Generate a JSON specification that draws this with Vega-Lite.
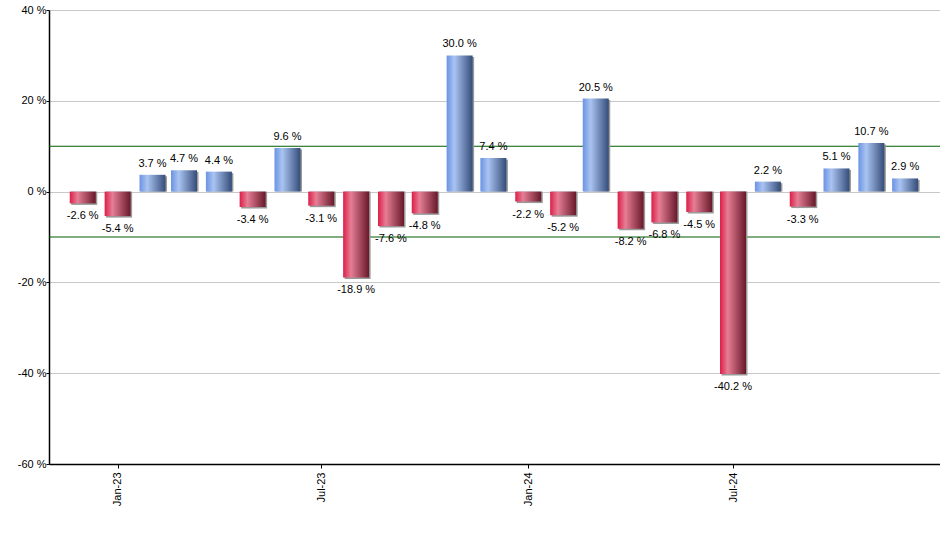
{
  "$schema": "https://vega.github.io/schema/vega-lite/v6.json",
  "width": 891,
  "height": 454,
  "autosize": {"type": "none"},
  "padding": {"left": 49, "top": 10, "right": 0, "bottom": 86},
  "background": "white",
  "config": {
    "view": {"stroke": null},
    "font": "Liberation Sans",
    "axis": {"labelFont": "Liberation Sans", "labelFontSize": 11, "labelColor": "#000000", "domainColor": "#000000", "tickColor": "#000000"}
  },
  "datasets": {
    "monthly": [
      {"date": "2022-12-01", "value": -2.6},
      {"date": "2023-01-01", "value": -5.4},
      {"date": "2023-02-01", "value": 3.7},
      {"date": "2023-03-01", "value": 4.7},
      {"date": "2023-04-01", "value": 4.4},
      {"date": "2023-05-01", "value": -3.4},
      {"date": "2023-06-01", "value": 9.6},
      {"date": "2023-07-01", "value": -3.1},
      {"date": "2023-08-01", "value": -18.9},
      {"date": "2023-09-01", "value": -7.6},
      {"date": "2023-10-01", "value": -4.8},
      {"date": "2023-11-01", "value": 30.0},
      {"date": "2023-12-01", "value": 7.4},
      {"date": "2024-01-01", "value": -2.2},
      {"date": "2024-02-01", "value": -5.2},
      {"date": "2024-03-01", "value": 20.5},
      {"date": "2024-04-01", "value": -8.2},
      {"date": "2024-05-01", "value": -6.8},
      {"date": "2024-06-01", "value": -4.5},
      {"date": "2024-07-01", "value": -40.2},
      {"date": "2024-08-01", "value": 2.2},
      {"date": "2024-09-01", "value": -3.3},
      {"date": "2024-10-01", "value": 5.1},
      {"date": "2024-11-01", "value": 10.7},
      {"date": "2024-12-01", "value": 2.9}
    ],
    "bands": [{"level": 10}, {"level": -10}]
  },
  "data": {"name": "monthly"},
  "encoding": {
    "x": {
      "field": "date",
      "type": "temporal",
      "scale": {"type": "utc", "domain": ["2022-11-01", "2025-01-01"], "padding": 0, "nice": false},
      "axis": {
        "title": null,
        "grid": false,
        "values": ["2023-01-01", "2023-07-01", "2024-01-01", "2024-07-01"],
        "labelExpr": "utcFormat(datum.value, '%b-%y')",
        "labelAngle": -90,
        "tickSize": 4,
        "labelPadding": 4,
        "domainWidth": 1.5
      }
    },
    "y": {
      "field": "value",
      "type": "quantitative",
      "scale": {"domain": [-60, 40], "nice": false, "zero": false},
      "axis": {
        "title": null,
        "values": [-60, -40, -20, 0, 20, 40],
        "labelExpr": "datum.value + ' %'",
        "grid": true,
        "gridColor": "#c8c8c8",
        "gridWidth": 1,
        "tickSize": 3,
        "labelPadding": 0,
        "domainWidth": 1.5
      }
    }
  },
  "layer": [
    {
      "data": {"name": "bands"},
      "mark": {"type": "rule", "color": "#005c00", "strokeWidth": 1.1},
      "encoding": {"x": null, "y": {"field": "level", "type": "quantitative"}}
    },
    {
      "mark": {"type": "bar", "width": 26, "color": "#9a9a9a", "xOffset": 1.5, "yOffset": 1.5},
      "encoding": {"y2": {"datum": 0}}
    },
    {
      "transform": [{"filter": "datum.value >= 0"}],
      "mark": {
        "type": "bar",
        "width": 26,
        "fill": {
          "gradient": "linear", "x1": 0, "x2": 1, "y1": 0, "y2": 0,
          "stops": [
            {"offset": 0, "color": "#6a93e3"},
            {"offset": 0.3, "color": "#aac4f2"},
            {"offset": 1, "color": "#344c78"}
          ]
        }
      },
      "encoding": {"y2": {"datum": 0}}
    },
    {
      "transform": [{"filter": "datum.value < 0"}],
      "mark": {
        "type": "bar",
        "width": 26,
        "fill": {
          "gradient": "linear", "x1": 0, "x2": 1, "y1": 0, "y2": 0,
          "stops": [
            {"offset": 0, "color": "#dc1e48"},
            {"offset": 0.3, "color": "#e67e95"},
            {"offset": 1, "color": "#68182a"}
          ]
        }
      },
      "encoding": {"y2": {"datum": 0}}
    },
    {
      "transform": [{"filter": "datum.value >= 0"}],
      "mark": {"type": "text", "baseline": "alphabetic", "dy": -8, "fontSize": 11, "color": "#000000", "text": {"expr": "format(datum.value, '.1f') + ' %'"}}
    },
    {
      "transform": [{"filter": "datum.value < 0"}],
      "mark": {"type": "text", "baseline": "alphabetic", "dy": 16, "fontSize": 11, "color": "#000000", "text": {"expr": "'-' + format(abs(datum.value), '.1f') + ' %'"}}
    }
  ]
}
